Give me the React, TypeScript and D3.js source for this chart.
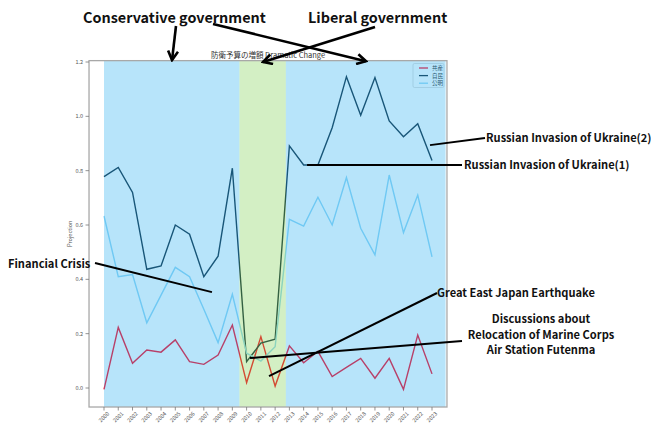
import React from "react";
import * as d3 from "d3";

const years = d3.range(2000, 2024);
const yearLabels = years.map(String);
const seriesNames = ["共産", "自民", "公明"];
const kyosan = [-0.005, 0.223, 0.091, 0.14, 0.132, 0.177, 0.097, 0.087, 0.121, 0.232, 0.02, 0.189, 0.007, 0.155, 0.093, 0.135, 0.042, 0.076, 0.109, 0.036, 0.109, -0.005, 0.195, 0.052];
const jimin = [0.778, 0.812, 0.72, 0.437, 0.449, 0.6, 0.566, 0.41, 0.485, 0.809, 0.097, 0.165, 0.18, 0.891, 0.821, 0.821, 0.958, 1.146, 1.004, 1.143, 0.983, 0.925, 0.973, 0.837];
const komei = [0.633, 0.41, 0.418, 0.24, 0.342, 0.444, 0.41, 0.29, 0.167, 0.345, 0.128, 0.099, 0.152, 0.621, 0.596, 0.702, 0.6, 0.775, 0.588, 0.49, 0.784, 0.572, 0.71, 0.483];
const yTicks = [0, 0.2, 0.4, 0.6, 0.8, 1.0, 1.2];
const spanStarts = [2000, 2009.5, 2012.75];
const spanEnds = [2009.5, 2012.75, 2023.95];
const spanKinds = ["blue", "green", "blue"];

const seriesColors = ["#ff1530", "#1c3446", "#98d8f6"];
const spanColors: Record<string, string> = { blue: "#12a6ee", green: "#6cca3b" };
const FONT = "'Noto Sans CJK JP', 'Noto Sans', sans-serif";

export default function App() {
  const W = 651, H = 425;
  const x = d3.scaleLinear().domain([2000, 2023]).range([104, 432]);
  const y = d3.scaleLinear().domain([0, 1.2]).range([388, 62]);
  const fx0 = x(1998.95), fx1 = x(2024.05);
  const fy0 = y(1.205), fy1 = y(-0.07);
  const line = d3.line<number>().x((_, i) => x(years[i])).y((d) => y(d));
  const data = [kyosan, jimin, komei];

  // annotations: anchor in data coords, text side in pixels
  const arrows = [
    { from: [176, 26], to: [2004.77, 1.207] },
    { from: [213, 24], to: [2018.37, 1.203] },
    { from: [375, 27], to: [2011.15, 1.2] },
  ];
  const plain = [
    { from: [95, 263], to: [2007.57, 0.353] },
    { from: [485, 138], to: [2022.86, 0.894] },
    { from: [462, 165], to: [2014.24, 0.821] },
    { from: [437, 293], to: [2011.57, 0.044] },
    { from: [462, 341], to: [2010.24, 0.11] },
  ];

  return (
    <svg width={W} height={H} style={{ position: "absolute", left: 0, top: 0, background: "#fff" }} fontFamily={FONT}>
      <defs>
        <marker id="ah" viewBox="0 0 12 12" refX="10" refY="6" markerWidth="12" markerHeight="12" markerUnits="userSpaceOnUse" orient="auto">
          <path d="M1,1 L10,6 L1,11" fill="none" stroke="#000" strokeWidth={2.6} strokeLinejoin="miter" />
        </marker>
      </defs>
      {/* series */}
      {data.map((d, i) => (
        <path key={i} d={line(d) || ""} fill="none" stroke={seriesColors[i]} strokeWidth={1.4} />
      ))}
      {/* legend (under the spans, as in reference) */}
      <g>
        <rect x={413} y={63.5} width={31} height={24} rx={1.5} fill="#fff" fillOpacity={0.8} stroke="#ccc" strokeWidth={0.6} />
        {seriesNames.map((n, i) => (
          <g key={n}>
            <line x1={419} x2={428} y1={68 + i * 7.6} y2={68 + i * 7.6} stroke={seriesColors[i]} strokeWidth={1.3} />
            <text x={432} y={68 + i * 7.6} dy="0.35em" fontSize={5.5} fill="#333">{n}</text>
          </g>
        ))}
      </g>
      {/* spans on top with alpha */}
      {spanStarts.map((s, i) => (
        <rect key={i} x={x(s)} y={fy0} width={x(spanEnds[i]) - x(s)} height={fy1 - fy0} fill={spanColors[spanKinds[i]]} fillOpacity={0.3} />
      ))}
      {/* frame */}
      <rect x={fx0} y={fy0} width={fx1 - fx0} height={fy1 - fy0} fill="none" stroke="#a8a8a8" strokeWidth={1.3} />
      {/* y ticks */}
      {yTicks.map((t) => (
        <g key={t}>
          <line x1={fx0 - 3.5} x2={fx0} y1={y(t)} y2={y(t)} stroke="#777" strokeWidth={0.8} />
          <text x={fx0 - 6} y={y(t)} dy="0.35em" textAnchor="end" fontSize={5.5} fill="#555">{t.toFixed(1)}</text>
        </g>
      ))}
      {/* x ticks */}
      {years.map((yr, i) => (
        <g key={yr}>
          <line x1={x(yr)} x2={x(yr)} y1={fy1} y2={fy1 + 3.5} stroke="#777" strokeWidth={0.8} />
          <text transform={`translate(${x(yr)},${fy1 + 10}) rotate(-45)`} textAnchor="middle" dy="0.35em" fontSize={5.5} fill="#555">{yearLabels[i]}</text>
        </g>
      ))}
      <text transform={`translate(72,${(fy0 + fy1) / 2}) rotate(-90)`} textAnchor="middle" fontSize={5.5} fill="#555">Projection</text>
      <text x={(fx0 + fx1) / 2} y={58} textAnchor="middle" fontSize={7.5} fill="#333">防衛予算の増額 Dramatic Change</text>

      {/* annotation lines */}
      {plain.map((a, i) => (
        <line key={i} x1={a.from[0]} y1={a.from[1]} x2={x(a.to[0])} y2={y(a.to[1])} stroke="#000" strokeWidth={2} />
      ))}
      {arrows.map((a, i) => (
        <line key={i} x1={a.from[0]} y1={a.from[1]} x2={x(a.to[0])} y2={y(a.to[1])} stroke="#000" strokeWidth={2.6} markerEnd="url(#ah)" />
      ))}
      {/* annotation texts */}
      <g fontWeight="bold" fill="#111">
        <text x={83} y={23} fontSize={14.4}>Conservative government</text>
        <text x={308} y={23} fontSize={14.4}>Liberal government</text>
        <text x={8} y={268} fontSize={11.1}>Financial Crisis</text>
        <text x={486} y={142} fontSize={11.1}>Russian Invasion of Ukraine(2)</text>
        <text x={464} y={169} fontSize={11.1}>Russian Invasion of Ukraine(1)</text>
        <text x={437} y={297} fontSize={11.1}>Great East Japan Earthquake</text>
        <text x={541} y={323} fontSize={11.1} textAnchor="middle">Discussions about</text>
        <text x={541} y={338.5} fontSize={11.1} textAnchor="middle">Relocation of Marine Corps</text>
        <text x={541} y={354} fontSize={11.1} textAnchor="middle">Air Station Futenma</text>
      </g>
    </svg>
  );
}
